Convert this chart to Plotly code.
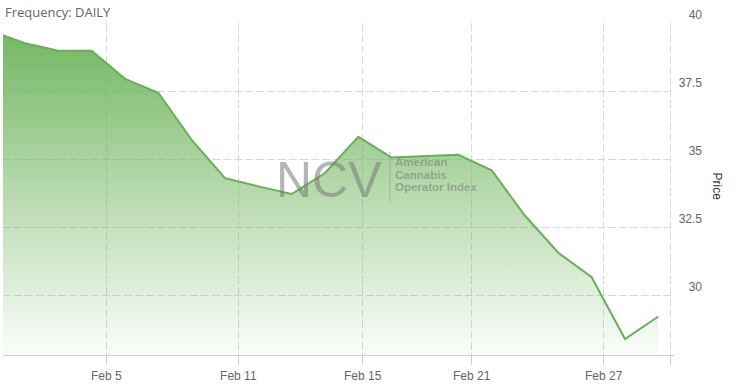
import plotly.graph_objects as go

# ---- data ----
point_index = list(range(21))
prices = [39.70, 39.26, 38.98, 38.98, 37.95, 37.44, 35.71, 34.30, 34.00, 33.72,
          34.49, 35.82, 35.06, 35.11, 35.16, 34.59, 32.92, 31.56, 30.66, 28.39, 29.22]
tick_positions = [3.44, 7.40, 11.13, 14.40, 18.36, 20.37]
tick_labels = ["Feb 5", "Feb 11", "Feb 15", "Feb 21", "Feb 27", " "]
y_ticks = [30, 32.5, 35, 37.5, 40]
y_tick_labels = ["30", "32.5", "35", "37.5", "40"]

W, H = 737, 387
L, R, T, B = 3, 32, 23, 32
plot_w = W - L - R
plot_h = H - T - B
x_right_px = 674
x_dom_end = (x_right_px - L) / plot_w

def px(x):
    return (x - L) / plot_w

def py(y):
    return (H - B - y) / plot_h

line_col = "#6aaf57"
grid_col = "#d9d9d9"
font_fam = "Liberation Sans, Arial, sans-serif"

fig = go.Figure()
fig.add_trace(go.Scatter(
    x=point_index, y=prices, mode="lines",
    line=dict(color=line_col, width=2),
    fill="tozeroy",
    fillgradient=dict(type="vertical", start=27.8, stop=max(prices),
                      colorscale=[[0, "rgba(108,179,90,0.03)"],
                                  [1, "rgba(108,179,90,0.95)"]]),
    hoverinfo="skip", showlegend=False,
))

fig.update_layout(
    width=W, height=H,
    margin=dict(l=L, r=R, t=T, b=B, pad=0),
    paper_bgcolor="white", plot_bgcolor="white",
    xaxis=dict(
        domain=[0, x_dom_end],
        range=[0.34, 20.47],
        tickmode="array", tickvals=tick_positions, ticktext=tick_labels,
        showgrid=True, gridcolor=grid_col, griddash="8px,3px", gridwidth=1,
        showline=True, linecolor="#cccccc", linewidth=1,
        ticks="outside", ticklen=9, tickcolor="#cccccc",
        ticklabelstandoff=1,
        tickfont=dict(family=font_fam, size=12, color="#666666"),
        zeroline=False, fixedrange=True,
    ),
    yaxis=dict(
        range=[27.805, 40.002],
        anchor="free", position=1, side="left",
        tickmode="array", tickvals=y_ticks, ticktext=y_tick_labels,
        showgrid=True, gridcolor=grid_col, griddash="8px,3px", gridwidth=1,
        showline=False, ticks="", zeroline=False,
        ticklabelshift=-8, ticklabelstandoff=3,
        tickfont=dict(family=font_fam, size=12, color="#666666"),
        fixedrange=True,
    ),
)

wm_col = "rgba(120,120,120,0.55)"
fig.add_annotation(text="NCV", xref="paper", yref="paper",
                   x=px(328.5), y=py(180), xanchor="center", yanchor="middle",
                   showarrow=False,
                   font=dict(family=font_fam, size=50, color=wm_col))
fig.add_shape(type="line", xref="paper", yref="paper",
              x0=px(390), x1=px(390), y0=py(152), y1=py(202),
              line=dict(color="rgba(140,140,140,0.5)", width=1))
for txt, yy in [("American", 162), ("Cannabis", 174.5), ("Operator Index", 187)]:
    fig.add_annotation(text="<b>" + txt + "</b>", xref="paper", yref="paper",
                       x=px(393), y=py(yy), xanchor="left", yanchor="middle",
                       showarrow=False,
                       font=dict(family=font_fam, size=11.5, color=wm_col))

fig.add_annotation(text="Frequency: DAILY", xref="paper", yref="paper",
                   x=px(3), y=py(12), xanchor="left", yanchor="middle",
                   showarrow=False,
                   font=dict(family="Open Sans, sans-serif", size=13, color="#666666"))
fig.add_annotation(text="Price", xref="paper", yref="paper",
                   x=px(716.5), y=py(186), xanchor="center", yanchor="middle",
                   textangle=90, showarrow=False,
                   font=dict(family=font_fam, size=12, color="#333333"))

fig.write_html("out.html")
